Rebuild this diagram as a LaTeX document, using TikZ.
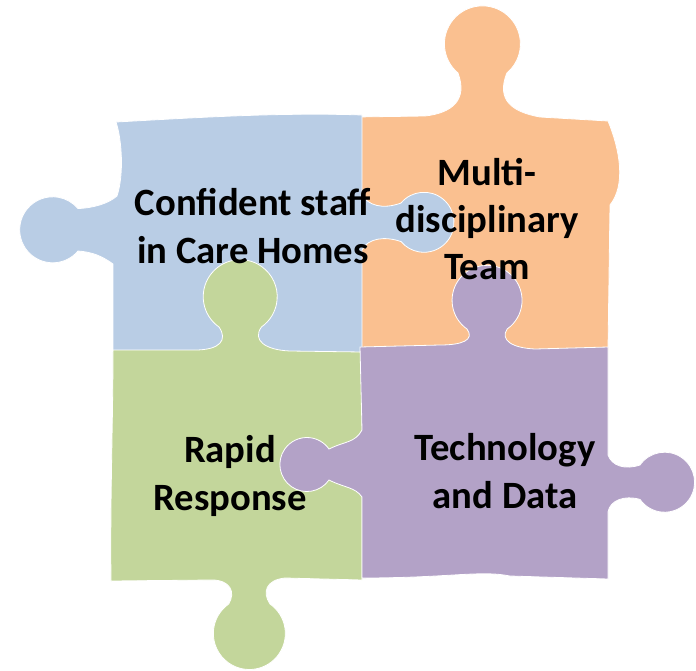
\documentclass[tikz,border=0pt]{standalone}
\usepackage{fontspec}
\setmainfont{Carlito}
\definecolor{pieceblue}{RGB}{185,205,229}
\definecolor{pieceorange}{RGB}{250,192,144}
\definecolor{piecegreen}{RGB}{195,214,155}
\definecolor{piecepurple}{RGB}{179,162,199}
\begin{document}
\begin{tikzpicture}[x=0.75pt,y=0.75pt,yscale=-1,xscale=1,
  piece/.style={draw=white, line width=0.6},
  label/.style={align=center, text=black, font=\fontsize{29}{35.5}\selectfont\bfseries}]
%uncomment if require: \path (0,671); %set diagram left start at 0, and has height of 671
\useasboundingbox (0,0) rectangle (696,671);

%Shape: Puzzle piece [id:orange]
\draw [piece, fill=pieceorange] (355,117) -- (425,116) .. controls (452,113) and (468,100) .. (458,73) arc [start angle=130, end angle=410, radius=38] .. controls (496,100) and (512,112) .. (540,117) -- (608,121) .. controls (620,150) and (626,185) .. (610,205) -- (608,350) -- (355,350) -- cycle ;
%Shape: Puzzle piece [id:blue]
\draw [piece, fill=pieceblue] (116,122) .. controls (190,118) and (280,112) .. (362,115) -- (362,195) .. controls (368,205) and (382,210) .. (401,203) arc [start angle=220, end angle=500, radius=30] .. controls (385,236) and (368,238) .. (362,250) -- (362,356) .. controls (300,360) and (200,350) .. (113,352) -- (113,264) .. controls (102,256) and (92,252) .. (78,251) arc [start angle=40, end angle=320, radius=33] .. controls (92,208) and (108,204) .. (117,196) .. controls (124,175) and (122,140) .. (116,122) -- cycle ;
%Shape: Puzzle piece [id:green]
\draw [piece, fill=piecegreen] (113,350) -- (195,350) .. controls (220,350) and (228,340) .. (219,327) arc [start angle=125, end angle=415, radius=37] .. controls (252,340) and (265,350) .. (290,351) -- (362,352) -- (362,580) -- (285,578) .. controls (266,580) and (262,592) .. (270,604) arc [start angle=305, end angle=595, radius=36] .. controls (236,592) and (230,580) .. (212,580) -- (111,581) .. controls (110,500) and (113,420) .. (113,350) -- cycle ;
%Shape: Puzzle piece [id:purple]
\draw [piece, fill=piecepurple] (360,347) -- (440,345) .. controls (462,345) and (475,340) .. (467,329) arc [start angle=125, end angle=415, radius=35] .. controls (500,340) and (512,348) .. (535,349) -- (608,347) -- (608,455) .. controls (612,466) and (625,470) .. (640,465) arc [start angle=215, end angle=505, radius=30] .. controls (625,495) and (610,500) .. (608,512) -- (608,579) -- (510,576) .. controls (480,570) and (450,578) .. (362,578) -- (362,497) .. controls (355,487) and (345,488) .. (329,480) arc [start angle=35, end angle=325, radius=27] .. controls (345,441) and (355,443) .. (362,430) -- cycle ;

% Text Node
\draw (253,226) node [label] (care) {Confident staff\\in Care Homes};
% Text Node
\draw (487,219) node [label] (team) {Multi-\\disciplinary\\Team};
% Text Node
\draw (230,476) node [label] (rapid) {Rapid\\Response};
% Text Node
\draw (505,471) node [label] (tech) {Technology\\and Data};
\end{tikzpicture}
\end{document}
